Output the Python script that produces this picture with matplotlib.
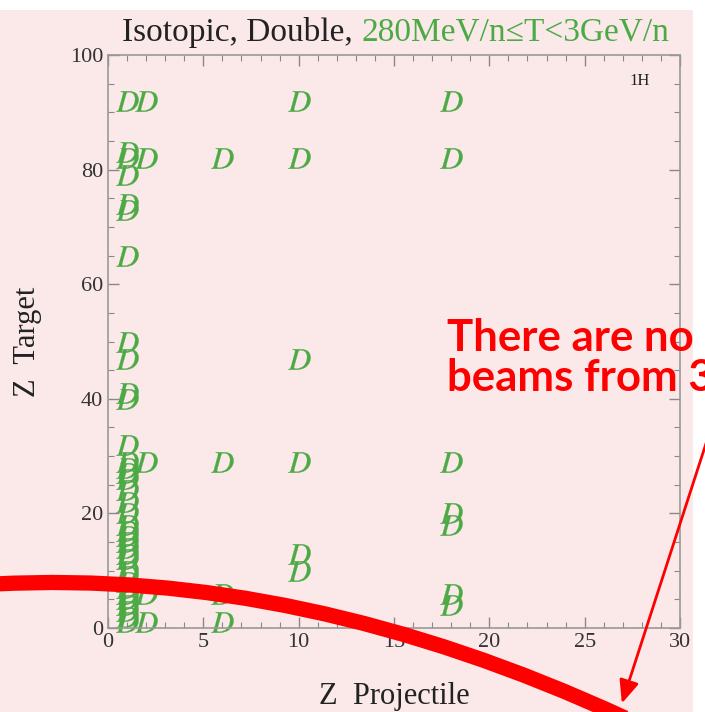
import numpy as np
import matplotlib
matplotlib.use("Agg")
import matplotlib.pyplot as plt
from matplotlib.patches import Rectangle, PathPatch, FancyArrowPatch
from matplotlib.path import Path

W, H = 705, 712
DPI = 100
PINK = "#fbe9ea"
GREEN = "#4caa45"

# Z target values measured for each projectile Z
proj_1 = [1, 2, 3, 4, 5, 6, 7, 8, 9, 10, 12, 13, 14, 15, 16, 17, 18, 20, 22, 24,
          26, 27, 28, 29, 32, 40, 41, 47, 50, 65, 73, 74, 79, 82, 83, 92]
proj_2 = [1, 6, 29, 82, 92]
proj_6 = [1, 6, 29, 82]
proj_10 = [10, 13, 29, 47, 82, 92]
proj_18 = [4, 6, 18, 20, 29, 82, 92]
projectiles = [1, 2, 6, 10, 18]
targets = [proj_1, proj_2, proj_6, proj_10, proj_18]

x_ticks = [0, 5, 10, 15, 20, 25, 30]
y_ticks = [0, 20, 40, 60, 80, 100]

plt.rcParams["font.family"] = ["Liberation Serif", "DejaVu Serif"]
plt.rcParams["mathtext.fontset"] = "stix"

fig = plt.figure(figsize=(W / DPI, H / DPI), dpi=DPI, facecolor="white")
fig.patches.append(Rectangle((0, 0), 693 / W, 1 - 10 / H, transform=fig.transFigure,
                             facecolor=PINK, edgecolor="none", zorder=-10))

ax = fig.add_axes([108 / W, 1 - 628 / H, 572 / W, 573 / H])
ax.set_facecolor(PINK)

for zp, zt in zip(projectiles, targets):
    ax.plot([zp] * len(zt), zt, linestyle="none", marker=r"$D$", markersize=16,
            color=GREEN, markeredgewidth=0.2, clip_on=False)

ax.set_xlim(0, 30)
ax.set_ylim(0, 100)
ax.set_xticks(x_ticks)
ax.set_yticks(y_ticks)
ax.set_xticks(np.arange(0, 31, 1), minor=True)
ax.set_yticks(np.arange(0, 101, 5), minor=True)
ax.tick_params(which="both", direction="in", top=True, right=True, color="#888888",
               labelsize=16, labelcolor="#333333")
ax.tick_params(which="major", length=8, width=1)
ax.tick_params(which="minor", length=4, width=0.8)
for s in ax.spines.values():
    s.set_color("#999999")
    s.set_linewidth(1.2)

ax.set_xlabel("Z  Projectile", fontsize=22, color="#222222", labelpad=22)
ax.set_ylabel("Z  Target", fontsize=22, color="#222222", labelpad=20)
ax.text(0.93, 0.955, "1H", transform=ax.transAxes, fontsize=12, ha="center",
        va="center", color="#222222")

t1 = fig.text(122 / W, 1 - 32 / H, "Isotopic, Double, ", fontsize=24, color="#222222",
              va="center", ha="left")
ax.annotate("280MeV/n\u2264T<3GeV/n", xy=(1, 0), xycoords=t1, va="bottom", ha="left",
            fontsize=24, color=GREEN)

# red annotation overlay (cut off at the right edge as in the source picture)
fig.text(447 / W, 1 - 338 / H, "There are no", fontsize=31.5, color="red",
         fontweight="bold", family="Lato", va="center", ha="left")
fig.text(447 / W, 1 - 378 / H, "beams from 3", fontsize=31.5, color="red",
         fontweight="bold", family="Lato", va="center", ha="left")

def px(x, y):
    return (x / W, 1 - y / H)

curve = Path([px(-5, 584), px(300, 568), px(625, 718)],
             [Path.MOVETO, Path.CURVE3, Path.CURVE3])
fig.patches.append(PathPatch(curve, transform=fig.transFigure, facecolor="none",
                             edgecolor="red", linewidth=11, capstyle="butt", zorder=10))
fig.patches.append(FancyArrowPatch(px(712, 425), px(621, 706), transform=fig.transFigure,
                                   arrowstyle="-|>,head_length=14,head_width=6",
                                   color="red", linewidth=2, zorder=10))

fig.savefig("out.png", dpi=DPI)
